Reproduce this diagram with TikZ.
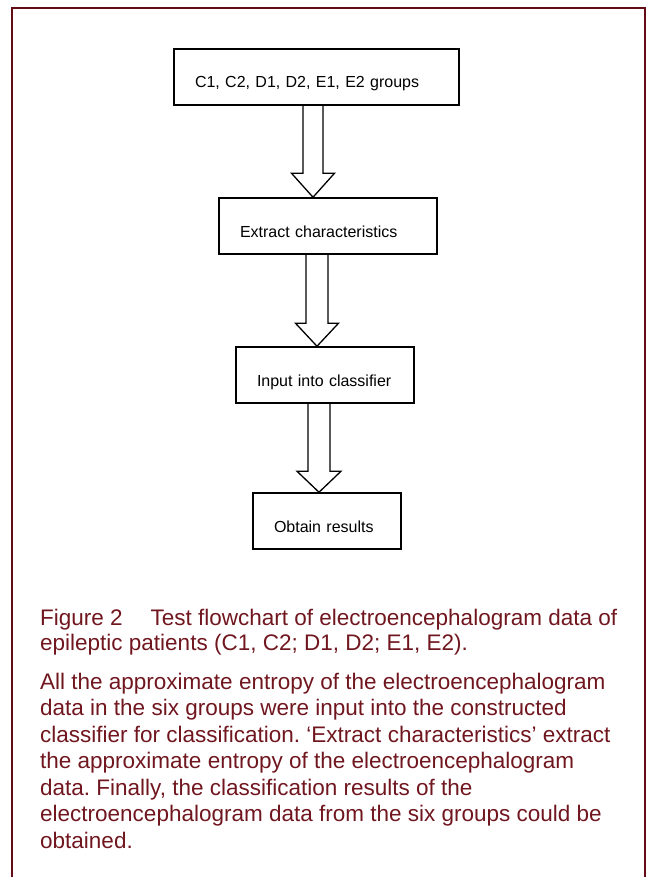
\documentclass[tikz,border=0pt]{standalone}
\usepackage{fontspec}
\setmainfont{Liberation Sans}
\usetikzlibrary{calc}
\definecolor{framecol}{RGB}{100,12,22}
\definecolor{textcol}{RGB}{112,22,30}
\newcommand\blockarr[6]{% from, to, x-coordinate, shaft half, head half, head length
  \draw[blockarrow] ($(#3 |- #1.south)+(-#4,0)$) -- ($(#3 |- #2.north)+(-#4,-#6)$)
    -- ($(#3 |- #2.north)+(-#5,-#6)$) -- (#3 |- #2.north)
    -- ($(#3 |- #2.north)+(#5,-#6)$) -- ($(#3 |- #2.north)+(#4,-#6)$)
    -- ($(#3 |- #1.south)+(#4,0)$);
}
\frenchspacing
\begin{document}
\begin{tikzpicture}[x=1pt,y=-1pt,
  box/.style={draw=black, line width=1.5pt, rectangle, inner xsep=21pt, inner ysep=0pt,
    minimum height=56pt, text height=22pt, text depth=0pt, align=left,
    font=\fontsize{16}{19}\selectfont},
  blockarrow/.style={draw=black, line width=1.3pt, line join=miter},
  captxt/.style={anchor=base west, inner sep=0pt, text=textcol,
    font=\fontsize{22.5}{26}\selectfont}]
\useasboundingbox (0,0) rectangle (649,877);
\draw[framecol, line width=2pt] (11.5,895) -- (11.5,8) -- (645,8) -- (645,895);

\node[box, text width=243pt] (b1) at (316.5,77) {C1, C2, D1, D2, E1, E2 groups};
\node[box, text width=176pt] (b2) at (328,226) {Extract characteristics};
\node[box, text width=136pt] (b3) at (325,375) {Input into classifier};
\node[box, text width=106pt] (b4) at (327,521) {Obtain results};

\coordinate (a1) at (313,0);
\coordinate (a2) at (317,0);
\coordinate (a3) at (319,0);
\blockarr{b1}{b2}{a1}{10}{21.5}{24}
\blockarr{b2}{b3}{a2}{11}{21.5}{23}
\blockarr{b3}{b4}{a3}{11}{22}{21}

\node[captxt] (c1) at (40,625) {Figure 2\hspace{1.24em}Test flowchart of electroencephalogram data of};
\node[captxt] (c2) at (40,650) {epileptic patients (C1, C2; D1, D2; E1, E2).};
\node[captxt] (p1) at (40,689) {All the approximate entropy of the electroencephalogram};
\node[captxt] (p2) at (40,715.5) {data in the six groups were input into the constructed};
\node[captxt] (p3) at (40,742) {classifier for classification. ‘Extract characteristics’ extract};
\node[captxt] (p4) at (40,768.5) {the approximate entropy of the electroencephalogram};
\node[captxt] (p5) at (40,795) {data. Finally, the classification results of the};
\node[captxt] (p6) at (40,821.5) {electroencephalogram data from the six groups could be};
\node[captxt] (p7) at (40,848) {obtained.};
\end{tikzpicture}
\end{document}
